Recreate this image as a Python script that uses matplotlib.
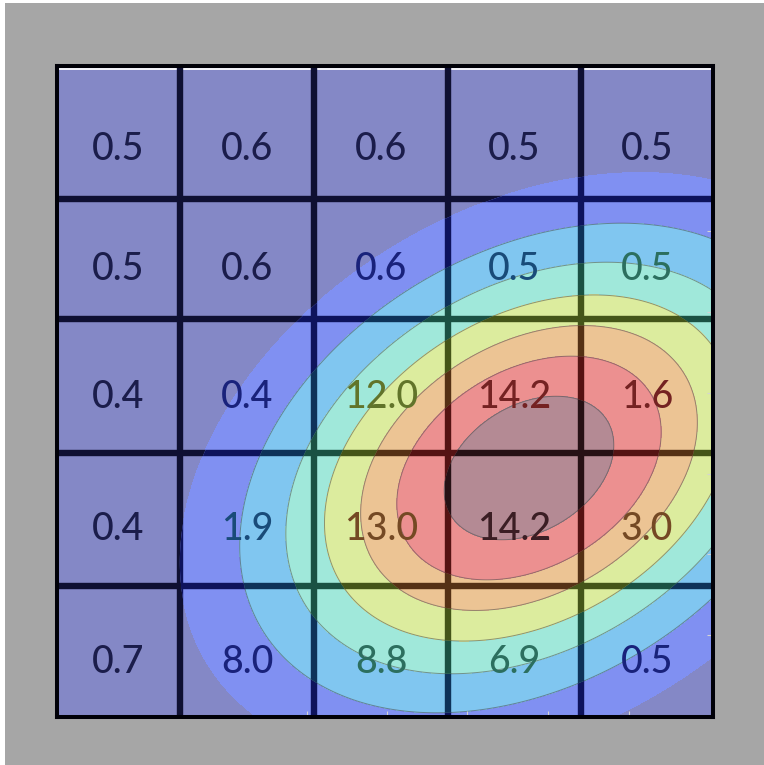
import numpy as np
import matplotlib.pyplot as plt
from matplotlib.collections import LineCollection
from matplotlib.colors import to_rgb
from matplotlib.patches import Rectangle

# cell readings, top row first
values = [
    [0.5, 0.6, 0.6, 0.5, 0.5],
    [0.5, 0.6, 0.6, 0.5, 0.5],
    [0.4, 0.4, 12.0, 14.2, 1.6],
    [0.4, 1.9, 13.0, 14.2, 3.0],
    [0.7, 8.0, 8.8, 6.9, 0.5],
]
col_edges = [0, 123, 257, 391, 524, 656]
row_edges = [0, 133, 253, 387, 520, 651]
label_drop = [17, 11, 11, 10, 11]

# hotspot surface drawn under the grid
hot_x, hot_y = 472, 402
ring_radii = [68, 106, 135, 164, 195, 232, 280]
band_colors = ['#8488c6', '#8090f2', '#80c6f0', '#a0e8da',
               '#dcec9e', '#ecc494', '#ec9090', '#b48a94']
right_ticks = [165, 246, 327, 408, 488, 569]
bottom_ticks = [250, 330, 410, 491, 572]

sigma = 150.0


def surface(x, y):
    dx = x - hot_x
    dy = y - hot_y
    q = 0.716 * dx ** 2 + 0.54 * dx * dy + dy ** 2
    return np.exp(-q / (2 * sigma ** 2))


def shade(c, k, p=3.0):
    return tuple(k * np.array(to_rgb(c)) ** p)


levels = [0.0] + [np.exp(-r ** 2 / (2 * sigma ** 2)) for r in ring_radii[::-1]] + [1.01]

W, H = 764, 765
fig = plt.figure(figsize=(W / 100, H / 100), dpi=100)
fig.patch.set_facecolor('white')
fig.add_artist(Rectangle((5 / W, 0), 1, (H - 3) / H, transform=fig.transFigure,
                         facecolor='#a6a6a6', edgecolor='none', zorder=0))

ax = fig.add_axes([57 / W, (H - 717) / H, 656 / W, 651 / H])
ax.set_xlim(col_edges[0], col_edges[-1])
ax.set_ylim(row_edges[-1], row_edges[0])

xs = np.linspace(col_edges[0], col_edges[-1], 700)
ys = np.linspace(row_edges[0], row_edges[-1], 700)
X, Y = np.meshgrid(xs, ys)
Z = surface(X, Y)

cs = ax.contourf(X, Y, Z, levels=levels, colors=band_colors, zorder=1)
ax.contour(X, Y, Z, levels=levels[2:-1], colors='#4a4a4a', linewidths=0.7,
           alpha=0.55, zorder=1.2)

# thin light edge under the top border
ax.plot([col_edges[0], col_edges[-1]], [2.5, 2.5], color='white', lw=1.3, zorder=1.5)

# grid lines, tinted by the band they cross
segs = [[(x, row_edges[0]), (x, row_edges[-1])] for x in col_edges[1:-1]]
segs += [[(col_edges[0], y), (col_edges[-1], y)] for y in row_edges[1:-1]]
for i, path in enumerate(cs.get_paths()):
    if len(path.vertices) == 0:
        continue
    lc = LineCollection(segs, colors=[shade(band_colors[i], 0.42)],
                        linewidths=4.6, capstyle='butt', zorder=2)
    ax.add_collection(lc)
    lc.set_clip_path(path, ax.transData)

# cell labels
for r, row in enumerate(values):
    cy = (row_edges[r] + row_edges[r + 1]) / 2 + label_drop[r]
    for c, v in enumerate(row):
        cx = (col_edges[c] + col_edges[c + 1]) / 2
        band = int(np.searchsorted(levels, surface(cx, cy))) - 1
        band = min(max(band, 0), len(band_colors) - 1)
        ax.text(cx, cy, f'{v:.1f}', ha='center', va='center', fontsize=27,
                family='Lato', fontweight='medium',
                color=shade(band_colors[band], 0.55, 2.5), zorder=3)

for s in ax.spines.values():
    s.set_linewidth(2.9)
    s.set_color('#000008')
    s.set_zorder(4)

ax.yaxis.tick_right()
ax.set_yticks(right_ticks)
ax.set_xticks(bottom_ticks)
ax.tick_params(axis='both', direction='in', length=4.5, width=0.8,
               color='#d4d4d4', labelbottom=False, labelright=False,
               labelleft=False)

fig.savefig('out.png', dpi=100)
